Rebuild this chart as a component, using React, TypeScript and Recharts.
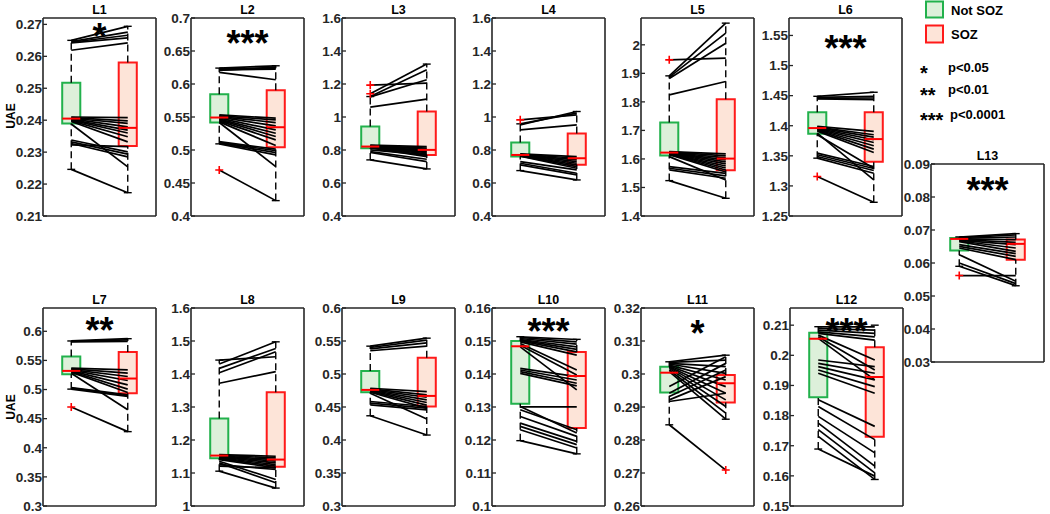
import React from "react";
import {
  ComposedChart,
  Line,
  Scatter,
  XAxis,
  YAxis,
  ReferenceArea,
  ReferenceLine,
} from "recharts";

// each pair = [Not SOZ, SOZ] for one subject
const l1Pairs = [
  [0.265, 0.2694], [0.2646, 0.2676], [0.2644, 0.2666], [0.2642, 0.2658], [0.2619, 0.2642],
  [0.241, 0.2408], [0.2408, 0.2398], [0.2406, 0.239], [0.2404, 0.2379], [0.2402, 0.2369],
  [0.24, 0.236], [0.2398, 0.2348], [0.2396, 0.2332], [0.2388, 0.2254],
  [0.2338, 0.2301], [0.2332, 0.2294], [0.2327, 0.2285], [0.2323, 0.2317], [0.2246, 0.2173],
];
const l2Pairs = [
  [0.6241, 0.6276], [0.6231, 0.6241], [0.6215, 0.6226], [0.6205, 0.6256], [0.6175, 0.6064],
  [0.5533, 0.5482], [0.5517, 0.5457], [0.5507, 0.5416], [0.5497, 0.5366], [0.5482, 0.5305],
  [0.5467, 0.5254], [0.5457, 0.5204], [0.5442, 0.5153], [0.5426, 0.5067], [0.5416, 0.4749],
  [0.5128, 0.5012], [0.5113, 0.4991], [0.5103, 0.4961], [0.5093, 0.4926], [0.4698, 0.4233],
];
const l3Pairs = [
  [1.1932, 1.2053], [1.1406, 1.3207], [1.124, 1.2863], [1.122, 1.2256], [1.0596, 1.1082],
  [0.829, 0.8209], [0.827, 0.8108], [0.8249, 0.8047], [0.8229, 0.7966], [0.8209, 0.7905],
  [0.8189, 0.7845], [0.8168, 0.7764], [0.8148, 0.7683], [0.8128, 0.7602],
  [0.8007, 0.7703], [0.7905, 0.744], [0.785, 0.7298], [0.74, 0.6853],
];
const l4Pairs = [
  [0.9828, 1.0131], [0.9585, 1.0232], [0.9524, 1.0333], [0.9221, 0.9524],
  [0.7764, 0.7602], [0.7743, 0.7501], [0.7723, 0.7399], [0.7703, 0.7298], [0.7683, 0.7197],
  [0.7663, 0.7096], [0.7642, 0.6995], [0.7622, 0.6894],
  [0.7298, 0.6792], [0.7197, 0.659], [0.7096, 0.6489], [0.6752, 0.6185],
];
const l5Pairs = [
  [1.9474, 1.9532], [1.8912, 2.076], [1.8865, 2.0409], [1.8819, 2.0058], [1.8246, 1.8713],
  [1.6257, 1.6175], [1.6246, 1.6105], [1.6234, 1.6035], [1.6222, 1.5965], [1.6211, 1.5895],
  [1.6199, 1.5825], [1.6187, 1.5754], [1.6175, 1.5684], [1.6164, 1.5614], [1.6152, 1.5544],
  [1.6082, 1.5263], [1.5731, 1.5497], [1.5673, 1.5404], [1.5614, 1.5322], [1.524, 1.462],
];
const l6Pairs = [
  [1.4489, 1.4556], [1.4472, 1.4489], [1.4456, 1.4461], [1.4444, 1.4433],
  [1.3989, 1.3906], [1.3978, 1.385], [1.3967, 1.3811], [1.3956, 1.3767], [1.3944, 1.3722],
  [1.3933, 1.3667], [1.3922, 1.3611], [1.3911, 1.3556],
  [1.3878, 1.31], [1.385, 1.3294],
  [1.3544, 1.3322], [1.3517, 1.3289], [1.3489, 1.3256], [1.3461, 1.3211], [1.3156, 1.2728],
];
const l7Pairs = [
  [0.5834, 0.5873], [0.5828, 0.5851], [0.5816, 0.5828],
  [0.5366, 0.5338], [0.5355, 0.5281], [0.5343, 0.5224], [0.5332, 0.5155], [0.532, 0.5081],
  [0.5309, 0.5007], [0.5298, 0.495],
  [0.5281, 0.4653], [0.5035, 0.491], [0.5024, 0.4893], [0.5007, 0.4881], [0.4699, 0.4277],
];
const l8Pairs = [
  [1.4422, 1.4523], [1.4302, 1.4975], [1.4171, 1.4774], [1.404, 1.4673], [1.3719, 1.407],
  [1.1558, 1.1508], [1.1538, 1.1457], [1.1518, 1.1407], [1.1497, 1.1357], [1.1477, 1.1307],
  [1.1457, 1.1256], [1.1437, 1.1206], [1.1407, 1.1156],
  [1.1357, 1.0804], [1.1307, 1.0704], [1.1256, 1.1106], [1.1206, 1.1156], [1.1055, 1.0543],
];
const l9Pairs = [
  [0.5422, 0.5543], [0.5402, 0.5513], [0.5382, 0.5472], [0.5352, 0.5422],
  [0.4784, 0.4734], [0.4774, 0.4683], [0.4764, 0.4648], [0.4754, 0.4608], [0.4744, 0.4568],
  [0.4734, 0.4528], [0.4724, 0.4482],
  [0.4709, 0.4317], [0.4583, 0.4508], [0.4558, 0.4482], [0.4533, 0.4457], [0.4367, 0.4075],
];
const l10Pairs = [
  [0.15126, 0.15045], [0.15106, 0.14975], [0.15075, 0.14905], [0.15045, 0.14824],
  [0.15025, 0.14744], [0.15005, 0.14673], [0.14975, 0.14573],
  [0.14925, 0.14121], [0.14874, 0.1397], [0.14824, 0.13518],
  [0.14171, 0.1392], [0.14121, 0.13819], [0.1407, 0.13719], [0.1402, 0.13638],
  [0.13015, 0.12211], [0.13005, 0.13005], [0.12915, 0.12312], [0.12714, 0.12111],
  [0.12513, 0.1196], [0.12412, 0.11859], [0.12312, 0.11759], [0.1198, 0.11578],
];
const l11Pairs = [
  [0.30372, 0.30573], [0.30352, 0.30422], [0.30322, 0.30221], [0.30302, 0.3002],
  [0.30271, 0.29819], [0.30241, 0.29618], [0.30221, 0.29417], [0.30201, 0.29216],
  [0.30171, 0.29015], [0.30121, 0.28814], [0.3007, 0.28633],
  [0.29618, 0.30523], [0.29417, 0.30322], [0.29317, 0.30121], [0.29216, 0.2992],
  [0.29166, 0.29417], [0.28462, 0.27085],
];
const l12Pairs = [
  [0.20945, 0.20945], [0.2089, 0.20835], [0.20835, 0.20725], [0.2078, 0.20615], [0.20725, 0.20505],
  [0.2067, 0.19844], [0.20615, 0.19514], [0.2056, 0.19184],
  [0.19844, 0.19624], [0.19734, 0.19404], [0.19624, 0.19184], [0.19514, 0.18963], [0.19404, 0.18743],
  [0.18523, 0.17642], [0.18303, 0.17202], [0.17973, 0.16762], [0.17752, 0.16321],
  [0.17532, 0.16101], [0.17312, 0.15881], [0.16894, 0.15991],
];
const l13Pairs = [
  [0.06788, 0.06889], [0.06768, 0.06848], [0.06747, 0.06788], [0.06727, 0.06707],
  [0.06707, 0.06626], [0.06687, 0.06556], [0.06667, 0.06455], [0.06646, 0.06354],
  [0.06556, 0.06283], [0.06505, 0.06202], [0.06455, 0.06101],
  [0.06253, 0.05444], [0.06, 0.05374], [0.059, 0.05313], [0.05616, 0.05616],
];

// box stats: [lower whisker, q1, median, q3, upper whisker]
const l1NotSoz = [0.2246, 0.239, 0.2405, 0.2517, 0.265];
const l1Soz = [0.2173, 0.2319, 0.2376, 0.2581, 0.2694];
const l2NotSoz = [0.5093, 0.5416, 0.5492, 0.5846, 0.6241];
const l2Soz = [0.4233, 0.5042, 0.5345, 0.5907, 0.6276];
const l3NotSoz = [0.74, 0.8108, 0.8209, 0.9423, 1.124];
const l3Soz = [0.6853, 0.77, 0.8007, 1.0333, 1.3207];
const l4NotSoz = [0.6752, 0.76, 0.77, 0.845, 0.9585];
const l4Soz = [0.6185, 0.71, 0.75, 0.9, 1.0333];
const l5NotSoz = [1.524, 1.6117, 1.6222, 1.7275, 1.8912];
const l5Soz = [1.462, 1.5602, 1.6012, 1.8094, 2.076];
const l6NotSoz = [1.3461, 1.3867, 1.3961, 1.4222, 1.4489];
const l6Soz = [1.2728, 1.34, 1.3778, 1.4222, 1.4556];
const l7NotSoz = [0.5007, 0.5263, 0.532, 0.5566, 0.5834];
const l7Soz = [0.4277, 0.4938, 0.5189, 0.5645, 0.5873];
const l8NotSoz = [1.1055, 1.1447, 1.1528, 1.2653, 1.4422];
const l8Soz = [1.0543, 1.1186, 1.1407, 1.3447, 1.4975];
const l9NotSoz = [0.4367, 0.4724, 0.4759, 0.5045, 0.5422];
const l9Soz = [0.4075, 0.4508, 0.4668, 0.5246, 0.5543];
const l10NotSoz = [0.1198, 0.131, 0.1484, 0.15, 0.1513];
const l10Soz = [0.1158, 0.1236, 0.1394, 0.1467, 0.1505];
const l11NotSoz = [0.2846, 0.2944, 0.3004, 0.3022, 0.3037];
const l11Soz = [0.2863, 0.2914, 0.2972, 0.2997, 0.3057];
const l12NotSoz = [0.1689, 0.1861, 0.2055, 0.2075, 0.2095];
const l12Soz = [0.1588, 0.173, 0.1928, 0.2027, 0.21];
const l13NotSoz = [0.059, 0.0638, 0.0673, 0.0676, 0.0679];
const l13Soz = [0.0531, 0.061, 0.0658, 0.0671, 0.0689];

// outliers (red +)
const l2NotSozOut = [0.4698];
const l3NotSozOut = [1.1932, 1.1406];
const l4NotSozOut = [0.9828];
const l5NotSozOut = [1.9474];
const l6NotSozOut = [1.3156];
const l7NotSozOut = [0.4699];
const l11SozOut = [0.2709];
const l13NotSozOut = [0.0562];

// y tick labels
const l1Ticks = [0.21, 0.22, 0.23, 0.24, 0.25, 0.26, 0.27];
const l2Ticks = [0.4, 0.45, 0.5, 0.55, 0.6, 0.65, 0.7];
const l3Ticks = [0.4, 0.6, 0.8, 1, 1.2, 1.4, 1.6];
const l5Ticks = [1.4, 1.5, 1.6, 1.7, 1.8, 1.9, 2];
const l6Ticks = [1.25, 1.3, 1.35, 1.4, 1.45, 1.5, 1.55];
const l7Ticks = [0.3, 0.35, 0.4, 0.45, 0.5, 0.55, 0.6];
const l8Ticks = [1, 1.1, 1.2, 1.3, 1.4, 1.5, 1.6];
const l10Ticks = [0.1, 0.11, 0.12, 0.13, 0.14, 0.15, 0.16];
const l11Ticks = [0.26, 0.27, 0.28, 0.29, 0.3, 0.31, 0.32];
const l12Ticks = [0.15, 0.16, 0.17, 0.18, 0.19, 0.2, 0.21];
const l13Ticks = [0.03, 0.04, 0.05, 0.06, 0.07, 0.08, 0.09];

const FONT = "'Liberation Sans', Arial, sans-serif";
const AX = "#262626";
const GREEN = "#22b14c";
const GREEN_FILL = "#ddf0da";
const RED = "#ff1a1a";
const RED_FILL = "#fde4d8";

const PW = 113;
const PH = 198;
const LW = 40;
const M = 10;
const HALF = 0.16;
const CAP = 0.07;

const panels = [
  { title: "L1", stars: "*", sy: 31, left: 43, top: 18, pairs: l1Pairs, a: l1NotSoz, b: l1Soz, oa: [], ob: [], ticks: l1Ticks, dom: [0.21, 0.272] },
  { title: "L2", stars: "***", sy: 38, left: 191, top: 18, pairs: l2Pairs, a: l2NotSoz, b: l2Soz, oa: l2NotSozOut, ob: [], ticks: l2Ticks, dom: [0.4, 0.7] },
  { title: "L3", stars: "", sy: 0, left: 342, top: 18, pairs: l3Pairs, a: l3NotSoz, b: l3Soz, oa: l3NotSozOut, ob: [], ticks: l3Ticks, dom: [0.4, 1.6] },
  { title: "L4", stars: "", sy: 0, left: 492, top: 18, pairs: l4Pairs, a: l4NotSoz, b: l4Soz, oa: l4NotSozOut, ob: [], ticks: l3Ticks, dom: [0.4, 1.6] },
  { title: "L5", stars: "", sy: 0, left: 641, top: 18, pairs: l5Pairs, a: l5NotSoz, b: l5Soz, oa: l5NotSozOut, ob: [], ticks: l5Ticks, dom: [1.4, 2.094] },
  { title: "L6", stars: "***", sy: 43, left: 789, top: 18, pairs: l6Pairs, a: l6NotSoz, b: l6Soz, oa: l6NotSozOut, ob: [], ticks: l6Ticks, dom: [1.25, 1.579] },
  { title: "L13", stars: "***", sy: 39, left: 931, top: 164, pairs: l13Pairs, a: l13NotSoz, b: l13Soz, oa: l13NotSozOut, ob: [], ticks: l13Ticks, dom: [0.03, 0.09] },
  { title: "L7", stars: "**", sy: 35, left: 43, top: 308, pairs: l7Pairs, a: l7NotSoz, b: l7Soz, oa: l7NotSozOut, ob: [], ticks: l7Ticks, dom: [0.3, 0.64] },
  { title: "L8", stars: "", sy: 0, left: 191, top: 308, pairs: l8Pairs, a: l8NotSoz, b: l8Soz, oa: [], ob: [], ticks: l8Ticks, dom: [1, 1.6] },
  { title: "L9", stars: "", sy: 0, left: 342, top: 308, pairs: l9Pairs, a: l9NotSoz, b: l9Soz, oa: [], ob: [], ticks: l7Ticks, dom: [0.3, 0.6] },
  { title: "L10", stars: "***", sy: 36, left: 492, top: 308, pairs: l10Pairs, a: l10NotSoz, b: l10Soz, oa: [], ob: [], ticks: l10Ticks, dom: [0.1, 0.16] },
  { title: "L11", stars: "*", sy: 38, left: 641, top: 308, pairs: l11Pairs, a: l11NotSoz, b: l11Soz, oa: [], ob: l11SozOut, ticks: l11Ticks, dom: [0.26, 0.32] },
  { title: "L12", stars: "***", sy: 36, left: 790, top: 308, pairs: l12Pairs, a: l12NotSoz, b: l12Soz, oa: [], ob: [], ticks: l12Ticks, dom: [0.15, 0.2157] },
];

const Plus = (props: any) => {
  const { cx, cy } = props;
  return (
    <path
      d={`M${cx - 4},${cy}h8M${cx},${cy - 4}v8`}
      stroke="#ff0000"
      strokeWidth={1.6}
      fill="none"
    />
  );
};

const fmt = (v: number) => String(Number(v.toFixed(4)));

function boxParts(x: number, s: number[], stroke: string, fill: string) {
  const [lo, q1, med, q3, hi] = s;
  const ax = { xAxisId: "b", yAxisId: "l" };
  return [
    <ReferenceLine key={`wu${x}`} {...ax} segment={[{ x, y: q3 }, { x, y: hi }]} stroke="#000" strokeWidth={1.4} strokeDasharray="7 4" />,
    <ReferenceLine key={`wl${x}`} {...ax} segment={[{ x, y: lo }, { x, y: q1 }]} stroke="#000" strokeWidth={1.4} strokeDasharray="7 4" />,
    <ReferenceLine key={`cu${x}`} {...ax} segment={[{ x: x - CAP, y: hi }, { x: x + CAP, y: hi }]} stroke="#000" strokeWidth={1.4} />,
    <ReferenceLine key={`cl${x}`} {...ax} segment={[{ x: x - CAP, y: lo }, { x: x + CAP, y: lo }]} stroke="#000" strokeWidth={1.4} />,
    <ReferenceArea key={`bx${x}`} {...ax} x1={x - HALF} x2={x + HALF} y1={q1} y2={q3} fill={fill} fillOpacity={1} stroke={stroke} strokeWidth={2} />,
    <ReferenceLine key={`md${x}`} {...ax} segment={[{ x: x - HALF, y: med }, { x: x + HALF, y: med }]} stroke="#ff0000" strokeWidth={2} />,
  ];
}

function Panel({ p }: { p: any }) {
  const width = LW + PW + 1 + 4;
  const height = M + 1 + PH + 1 + M;
  return (
    <div style={{ position: "absolute", left: p.left - LW, top: p.top - M - 1 }}>
      <ComposedChart width={width} height={height} margin={{ top: M, right: 4, bottom: M, left: 0 }}>
        <XAxis xAxisId="b" type="number" dataKey="x" domain={[0.5, 2.5]} ticks={[1, 2]} allowDataOverflow
          height={1} tick={false} tickSize={-4} axisLine={{ stroke: AX, strokeWidth: 1.6 }} tickLine={{ stroke: AX, strokeWidth: 1.3 }} />
        <XAxis xAxisId="t" orientation="top" type="number" dataKey="x" domain={[0.5, 2.5]} ticks={[1, 2]} allowDataOverflow
          height={1} tick={false} tickSize={-4} axisLine={{ stroke: AX, strokeWidth: 1.6 }} tickLine={{ stroke: AX, strokeWidth: 1.3 }} />
        <YAxis yAxisId="l" type="number" dataKey="y" domain={p.dom} ticks={p.ticks} allowDataOverflow interval={0}
          width={LW} tickSize={-4} tickMargin={5} tickFormatter={fmt}
          tick={{ fill: AX, fontSize: 13.5, fontWeight: 700, fontFamily: FONT }}
          axisLine={{ stroke: AX, strokeWidth: 1.6 }} tickLine={{ stroke: AX, strokeWidth: 1.3 }} />
        <YAxis yAxisId="r" orientation="right" type="number" dataKey="y" domain={p.dom} ticks={p.ticks} allowDataOverflow
          width={1} tick={false} tickSize={-4} axisLine={{ stroke: AX, strokeWidth: 1.6 }} tickLine={{ stroke: AX, strokeWidth: 1.3 }} />
        {p.pairs.map((pr: number[], i: number) => (
          <Line key={i} xAxisId="b" yAxisId="l" data={[{ x: 1, y: pr[0] }, { x: 2, y: pr[1] }]} dataKey="y"
            stroke="#000" strokeWidth={1.7} dot={false} activeDot={false} isAnimationActive={false} legendType="none" />
        ))}
        {boxParts(1, p.a, GREEN, GREEN_FILL)}
        {boxParts(2, p.b, RED, RED_FILL)}
        <Scatter xAxisId="b" yAxisId="l" data={[...p.oa.map((v: number) => ({ x: 1, y: v })), ...p.ob.map((v: number) => ({ x: 2, y: v }))]}
          shape={Plus} isAnimationActive={false} legendType="none" />
      </ComposedChart>
    </div>
  );
}

export default function App() {
  const txt = { fontFamily: FONT, fontWeight: 700, fill: "#000" } as const;
  return (
    <div style={{ position: "absolute", left: 0, top: 0, width: 1050, height: 514, background: "#fff", overflow: "hidden" }}>
      {panels.map((p) => (
        <Panel key={p.title} p={p} />
      ))}
      <svg width={1050} height={514} style={{ position: "absolute", left: 0, top: 0, pointerEvents: "none" }}>
        {panels.map((p) => (
          <g key={p.title}>
            <text x={p.left + PW / 2} y={p.top - 4} textAnchor="middle" fontSize={12.5} {...txt}>{p.title}</text>
            {p.stars && (
              <text x={p.left + PW / 2} y={p.top + p.sy} textAnchor="middle" fontSize={36} {...txt}>{p.stars}</text>
            )}
          </g>
        ))}
        <text transform="translate(15,116) rotate(-90)" textAnchor="middle" fontSize={12} {...txt}>UAE</text>
        <text transform="translate(15,407) rotate(-90)" textAnchor="middle" fontSize={12} {...txt}>UAE</text>
        <rect x={926} y={1.5} width={17} height={16} fill={GREEN_FILL} stroke={GREEN} strokeWidth={2} />
        <rect x={926} y={25.5} width={17} height={17} fill={RED_FILL} stroke={RED} strokeWidth={2} />
        <text x={951} y={15} fontSize={13} {...txt}>Not SOZ</text>
        <text x={951} y={39} fontSize={13} {...txt}>SOZ</text>
        <text x={920} y={80} fontSize={20} {...txt}>*</text>
        <text x={948} y={72} fontSize={13} {...txt}>p&lt;0.05</text>
        <text x={920} y={102} fontSize={20} {...txt}>**</text>
        <text x={948} y={94} fontSize={13} {...txt}>p&lt;0.01</text>
        <text x={920} y={127} fontSize={20} {...txt}>***</text>
        <text x={950} y={119} fontSize={13} {...txt}>p&lt;0.0001</text>
      </svg>
    </div>
  );
}
